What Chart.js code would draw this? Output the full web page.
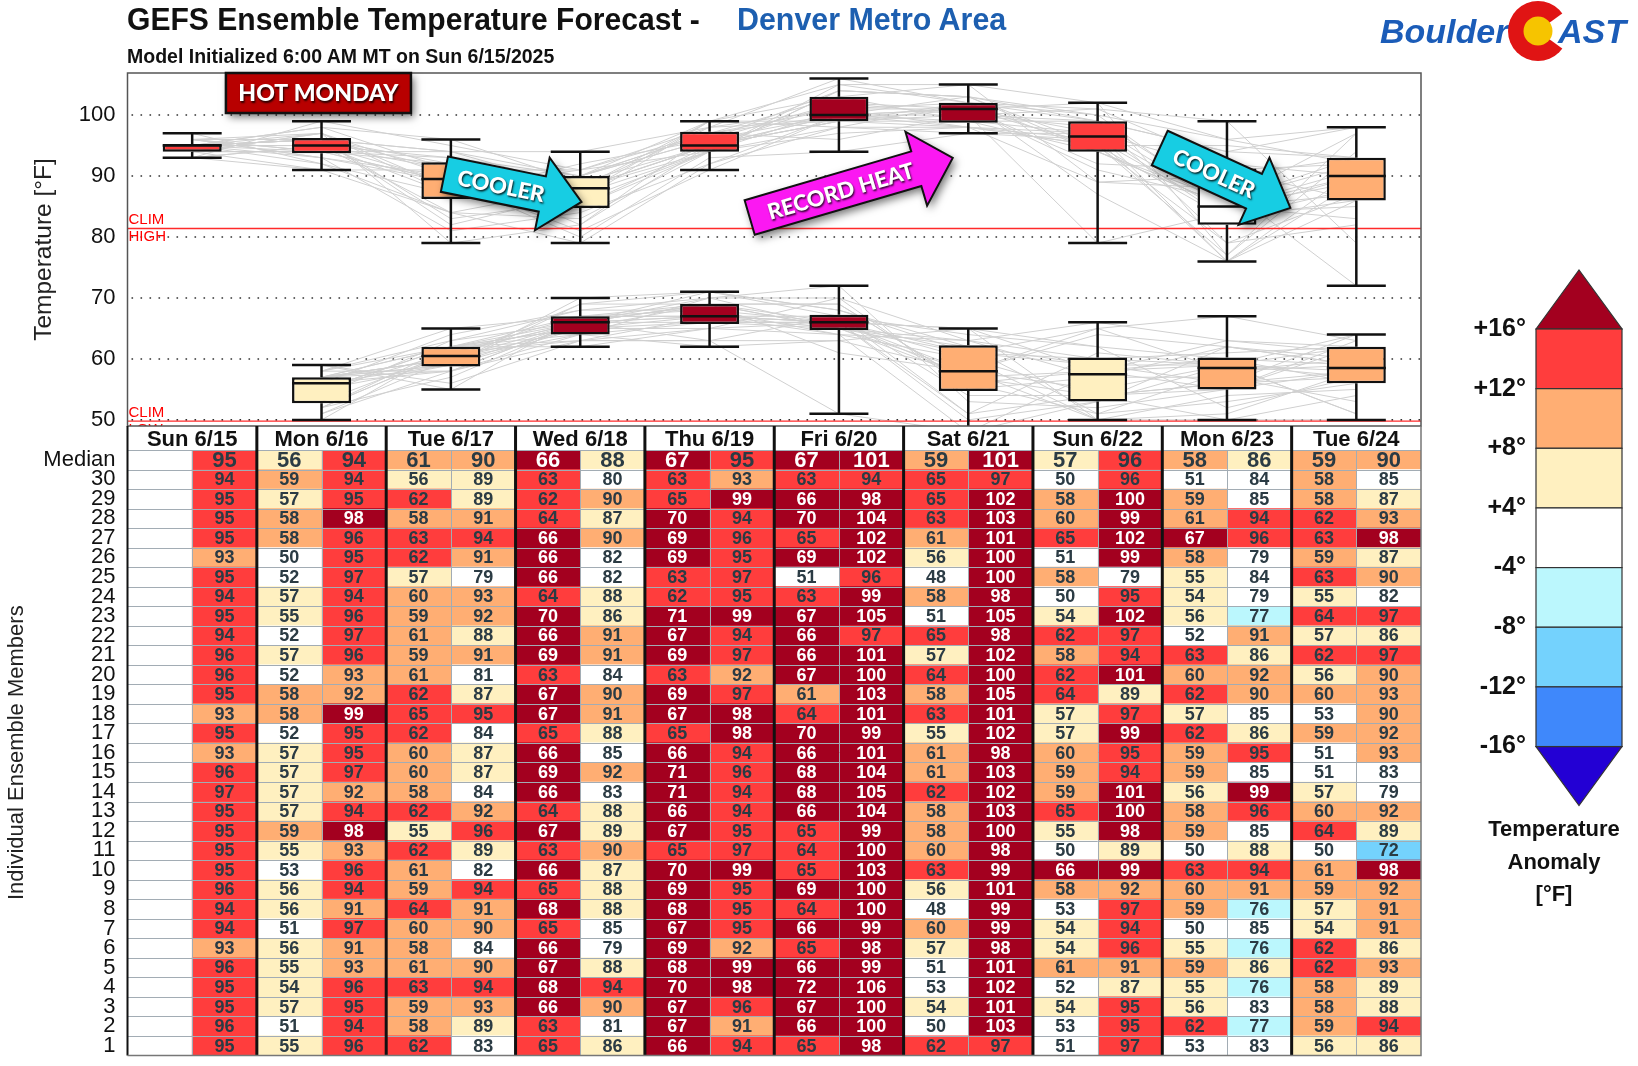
<!DOCTYPE html>
<html>
<head>
<meta charset="utf-8">
<title>GEFS Ensemble Temperature Forecast</title>
<script src="https://cdn.jsdelivr.net/npm/chart.js@4.4.0/dist/chart.umd.min.js"></script>
<style>
  html, body { margin: 0; padding: 0; background: #fff; }
  #wrap { position: relative; width: 1638px; height: 1066px; overflow: hidden; background: #fff; }
  .txt { position: absolute; white-space: nowrap; font-family: 'Liberation Sans', Arial, sans-serif; font-weight: bold; transform-origin: left top; }
  #title { left: 127px; top: 3px; font-size: 32px; line-height: 32px; color: #111; transform: scaleX(0.94); }
  #place { left: 737px; top: 3px; font-size: 32px; line-height: 32px; color: #1d5fb0; transform: scaleX(0.95); }
  #sub { left: 127px; top: 46px; font-size: 19.5px; line-height: 20px; color: #111; }
  canvas { position: absolute; }
  #topChart { left: 0; top: 0; }
  #tableChart { left: 0; top: 426px; }
  #cbar { left: 1440px; top: 250px; }
  #logo { position: absolute; left: 1368px; top: 0; }
</style>
</head>
<body>
<div id="wrap">
  <canvas id="topChart" width="1638" height="440"></canvas>
  <canvas id="tableChart" width="1638" height="640"></canvas>
  <canvas id="cbar" width="198" height="680"></canvas>
  <div class="txt" id="title">GEFS Ensemble Temperature Forecast -</div>
  <div class="txt" id="place">Denver Metro Area</div>
  <div class="txt" id="sub">Model Initialized 6:00 AM MT on Sun 6/15/2025</div>
  <svg id="logo" width="270" height="66">
    <text x="12" y="43" font-family="Liberation Sans, Arial, sans-serif" font-weight="bold" font-style="italic" font-size="34" fill="#1b5cb8">Boulder</text>
    <circle cx="170" cy="31" r="30" fill="#e01414"/>
    <polygon points="170,31 206,5 206,57" fill="#fff"/>
    <circle cx="170" cy="31" r="14.5" fill="#f6c400"/>
    <text x="190" y="43" font-family="Liberation Sans, Arial, sans-serif" font-weight="bold" font-style="italic" font-size="34" fill="#1b5cb8">AST</text>
  </svg>
</div>

<script>
// ---- data ----
const dayLabels = ['Sun 6/15', 'Mon 6/16', 'Tue 6/17', 'Wed 6/18', 'Thu 6/19',
                   'Fri 6/20', 'Sat 6/21', 'Sun 6/22', 'Mon 6/23', 'Tue 6/24'];
const memberLabels = ['30','29','28','27','26','25','24','23','22','21','20','19','18','17','16',
                      '15','14','13','12','11','10','9','8','7','6','5','4','3','2','1'];
const yTicks = [50, 60, 70, 80, 90, 100];
const climHigh = 81.4;
const climLow = 49.8;

// member values, listed member 30 down to member 1
const high_0615 = [94,95,95,95,93,95,94,95,94,96,96,95,93,95,93,96,97,95,95,95,95,96,94,94,93,96,95,95,96,95];
const low_0616  = [59,57,58,58,50,52,57,55,52,57,52,58,58,52,57,57,57,57,59,55,53,56,56,51,56,55,54,57,51,55];
const high_0616 = [94,95,98,96,95,97,94,96,97,96,93,92,99,95,95,97,92,94,98,93,96,94,91,97,91,93,96,95,94,96];
const low_0617  = [56,62,58,63,62,57,60,59,61,59,61,62,65,62,60,60,58,62,55,62,61,59,64,60,58,61,63,59,58,62];
const high_0617 = [89,89,91,94,91,79,93,92,88,91,81,87,95,84,87,87,84,92,96,89,82,94,91,90,84,90,94,93,89,83];
const low_0618  = [63,62,64,66,66,66,64,70,66,69,63,67,67,65,66,69,66,64,67,63,66,65,68,65,66,67,68,66,63,65];
const high_0618 = [80,90,87,90,82,82,88,86,91,91,84,90,91,88,85,92,83,88,89,90,87,88,88,85,79,88,94,90,81,86];
const low_0619  = [63,65,70,69,69,63,62,71,67,69,63,69,67,65,66,71,71,66,67,65,70,69,68,67,69,68,70,67,67,66];
const high_0619 = [93,99,94,96,95,97,95,99,94,97,92,97,98,98,94,96,94,94,95,97,99,95,95,95,92,99,98,96,91,94];
const low_0620  = [63,66,70,65,69,51,63,67,66,66,67,61,64,70,66,68,68,66,65,64,65,69,64,66,65,66,72,67,66,65];
const high_0620 = [94,98,104,102,102,96,99,105,97,101,100,103,101,99,101,104,105,104,99,100,103,100,100,99,98,99,106,100,100,98];
const low_0621  = [65,65,63,61,56,48,58,51,65,57,64,58,63,55,61,61,62,58,58,60,63,56,48,60,57,51,53,54,50,62];
const high_0621 = [97,102,103,101,100,100,98,105,98,102,100,105,101,102,98,103,102,103,100,98,99,101,99,99,98,101,102,101,103,97];
const low_0622  = [50,58,60,65,51,58,50,54,62,58,62,64,57,57,60,59,59,65,55,50,66,58,53,54,54,61,52,54,53,51];
const high_0622 = [96,100,99,102,99,79,95,102,97,94,101,89,97,99,95,94,101,100,98,89,99,92,97,94,96,91,87,95,95,97];
const low_0623  = [51,59,61,67,58,55,54,56,52,63,60,62,57,62,59,59,56,58,59,50,63,60,59,50,55,59,55,56,62,53];
const high_0623 = [84,85,94,96,79,84,79,77,91,86,92,90,85,86,95,85,99,96,85,88,94,91,76,85,76,86,76,83,77,83];
const low_0624  = [58,58,62,63,59,63,55,64,57,62,56,60,53,59,51,51,57,60,64,50,61,59,57,54,62,62,58,58,59,56];
const high_0624 = [85,87,93,98,87,90,82,97,86,97,90,93,90,92,93,83,79,92,89,72,98,92,91,91,86,93,89,88,94,86];

const medianHigh = [95, 94, 90, 88, 95, 101, 101, 96, 86, 90];
const medianLow  = [null, 56, 61, 66, 67, 67, 59, 57, 58, 59];

const highs = [high_0615, high_0616, high_0617, high_0618, high_0619, high_0620, high_0621, high_0622, high_0623, high_0624];
const lows  = [null, low_0616, low_0617, low_0618, low_0619, low_0620, low_0621, low_0622, low_0623, low_0624];

// anomaly colour classes (colour bar on the right)
const anomalySteps = [16, 12, 8, 4, -4, -8, -12, -16];
const anomalyColors = ['#a3001f', '#ff3d3d', '#ffae73', '#fff0c0', '#ffffff', '#bbf7fd', '#74d2fd', '#3f88fb', '#2300d4'];
const anomalyLabels = ['+16°', '+12°', '+8°', '+4°', '-4°', '-8°', '-12°', '-16°'];

function anomColor(a) {
  for (let i = 0; i < anomalySteps.length; i++) {
    if (a >= anomalySteps[i]) return anomalyColors[i];
  }
  return anomalyColors[anomalyColors.length - 1];
}

// (n+1)p quartiles, which is what the boxes in the original follow
function quantile(sorted, p) {
  const n = sorted.length;
  const h = Math.min(Math.max((n + 1) * p, 1), n) - 1;
  const lo = Math.floor(h), hi = Math.ceil(h);
  return sorted[lo] + (sorted[hi] - sorted[lo]) * (h - lo);
}

function boxStats(vals) {
  const s = [...vals].sort((a, b) => a - b);
  return { min: s[0], q1: quantile(s, 0.25), med: quantile(s, 0.5), q3: quantile(s, 0.75), max: s[s.length - 1] };
}

const SANS = "'Liberation Sans', Arial, sans-serif";
const CALLOUT = "Lato, 'Open Sans', 'Liberation Sans', sans-serif";
Chart.defaults.font.family = SANS;
Chart.defaults.color = '#111';

// keep the label overhang from eating into the plot height
function fixAxis(width) {
  return s => { s.width = width; s.paddingTop = 0; s.paddingBottom = 0; };
}

// ---- top chart: box plots with ensemble spaghetti ----
const highStats = highs.map(boxStats);
const lowStats = lows.map(c => c ? boxStats(c) : null);

const spaghetti = [];
memberLabels.forEach((m, k) => {
  spaghetti.push({ type: 'line', data: highs.map(c => c[k]), borderColor: '#d0d0d0', borderWidth: 1, pointRadius: 0, order: 3 });
  spaghetti.push({ type: 'line', data: lows.map(c => c ? c[k] : null), borderColor: '#d0d0d0', borderWidth: 1, pointRadius: 0, order: 3 });
});

const boxStyle = { type: 'bar', borderColor: '#111', borderWidth: 2.5, borderSkipped: false,
                   grouped: false, barPercentage: 0.456, categoryPercentage: 1, order: 1 };

const boxHigh = Object.assign({}, boxStyle, {
  data: highStats.map(s => [s.q1, s.q3]),
  stats: highStats,
  backgroundColor: highStats.map(s => anomColor(s.med - climHigh))
});
const boxLow = Object.assign({}, boxStyle, {
  data: lowStats.map(s => s ? [s.q1, s.q3] : null),
  stats: lowStats,
  backgroundColor: lowStats.map(s => s ? anomColor(s.med - climLow) : '#fff')
});

// call-outs placed in axis units (category index, °F)
const callouts = [
  { text: 'COOLER', color: '#17cde3', from: [1.95, 90.3], to: [3.01, 85.75], shaft: 36, head: 74, headLen: 40 },
  { text: 'RECORD HEAT', color: '#fb18f2', from: [4.31, 83.2], to: [5.88, 92.96], shaft: 36, head: 77, headLen: 38 },
  { text: 'COOLER', color: '#17cde3', from: [7.48, 94.6], to: [8.49, 84.76], shaft: 38, head: 74, headLen: 40 }
];
const hotBox = { text: 'HOT MONDAY', at: [0.976, 103.62], w: 185, h: 40 };

const topGrid = {
  id: 'topGrid',
  beforeDatasetsDraw(chart) {
    const { ctx, chartArea: a, scales: { y } } = chart;
    ctx.save();
    ctx.strokeStyle = '#333';
    ctx.lineWidth = 1.6;
    ctx.setLineDash([1.6, 7.4]);
    yTicks.forEach(v => {
      const py = y.getPixelForValue(v);
      ctx.beginPath(); ctx.moveTo(a.left + 4, py); ctx.lineTo(a.right, py); ctx.stroke();
    });
    ctx.restore();
  },
  afterDatasetDraw(chart, args) {
    if (args.index !== 0) return;
    // climatology lines go on top of the spaghetti
    const { ctx, chartArea: a, scales: { y } } = chart;
    ctx.save();
    ctx.beginPath(); ctx.rect(a.left, a.top, a.right - a.left, a.bottom - a.top); ctx.clip();
    ctx.strokeStyle = '#ff2a2a';
    ctx.lineWidth = 1.4;
    ctx.fillStyle = '#ff0000';
    ctx.font = '15px ' + SANS;
    [[climHigh, 'HIGH'], [climLow, 'LOW']].forEach(([v, word]) => {
      const py = y.getPixelForValue(v);
      ctx.beginPath(); ctx.moveTo(a.left, py); ctx.lineTo(a.right, py); ctx.stroke();
      ctx.textBaseline = 'bottom'; ctx.fillText('CLIM', a.left + 1, py - 1);
      ctx.textBaseline = 'top'; ctx.fillText(word, a.left + 1, py + 1);
    });
    ctx.restore();
  },
  afterDatasetsDraw(chart) {
    const { ctx, chartArea: a, scales: { y } } = chart;
    ctx.save();
    ctx.beginPath(); ctx.rect(a.left, a.top, a.right - a.left, a.bottom - a.top); ctx.clip();
    ctx.strokeStyle = '#111';
    ctx.lineWidth = 2.5;
    chart.data.datasets.forEach((ds, di) => {
      if (!ds.stats) return;
      const meta = chart.getDatasetMeta(di);
      ds.stats.forEach((s, i) => {
        if (!s) return;
        const el = meta.data[i];
        const x = el.x, h = el.width / 2;
        const py = v => y.getPixelForValue(v);
        ctx.beginPath();
        ctx.moveTo(x, py(s.max)); ctx.lineTo(x, py(s.q3));
        ctx.moveTo(x, py(s.q1)); ctx.lineTo(x, py(s.min));
        ctx.moveTo(x - h, py(s.max)); ctx.lineTo(x + h, py(s.max));
        ctx.moveTo(x - h, py(s.min)); ctx.lineTo(x + h, py(s.min));
        ctx.moveTo(x - h, py(s.med)); ctx.lineTo(x + h, py(s.med));
        ctx.stroke();
      });
    });
    ctx.restore();
  },
  afterDraw(chart) {
    const { ctx, chartArea: a, scales: { x, y } } = chart;
    // plot frame
    ctx.save();
    ctx.strokeStyle = '#555';
    ctx.lineWidth = 1.5;
    ctx.strokeRect(a.left, a.top, a.right - a.left, a.bottom - a.top);

    // HOT MONDAY label
    const cx = x.getPixelForValue(hotBox.at[0]), cy = y.getPixelForValue(hotBox.at[1]);
    ctx.save();
    ctx.shadowColor = 'rgba(0,0,0,0.55)'; ctx.shadowBlur = 8; ctx.shadowOffsetX = 3; ctx.shadowOffsetY = 4;
    ctx.fillStyle = '#b80000';
    ctx.fillRect(cx - hotBox.w / 2, cy - hotBox.h / 2, hotBox.w, hotBox.h);
    ctx.restore();
    ctx.lineWidth = 2.5; ctx.strokeStyle = '#111';
    ctx.strokeRect(cx - hotBox.w / 2, cy - hotBox.h / 2, hotBox.w, hotBox.h);
    ctx.font = '900 23px ' + CALLOUT;
    ctx.textAlign = 'center'; ctx.textBaseline = 'middle';
    ctx.shadowColor = 'rgba(0,0,0,0.8)'; ctx.shadowBlur = 2; ctx.shadowOffsetX = 1; ctx.shadowOffsetY = 1.5;
    ctx.fillStyle = '#fff';
    ctx.fillText(hotBox.text, cx, cy + 1);
    ctx.restore();

    callouts.forEach(c => {
      const x0 = x.getPixelForValue(c.from[0]), y0 = y.getPixelForValue(c.from[1]);
      const x1 = x.getPixelForValue(c.to[0]), y1 = y.getPixelForValue(c.to[1]);
      const ang = Math.atan2(y1 - y0, x1 - x0), len = Math.hypot(x1 - x0, y1 - y0);
      const sb = len - c.headLen;
      ctx.save();
      ctx.translate(x0, y0); ctx.rotate(ang);
      ctx.beginPath();
      ctx.moveTo(0, -c.shaft / 2); ctx.lineTo(sb, -c.shaft / 2); ctx.lineTo(sb, -c.head / 2);
      ctx.lineTo(len, 0);
      ctx.lineTo(sb, c.head / 2); ctx.lineTo(sb, c.shaft / 2); ctx.lineTo(0, c.shaft / 2);
      ctx.closePath();
      ctx.save();
      ctx.shadowColor = 'rgba(0,0,0,0.55)'; ctx.shadowBlur = 8; ctx.shadowOffsetX = 3; ctx.shadowOffsetY = 4;
      ctx.fillStyle = c.color; ctx.fill();
      ctx.restore();
      ctx.lineWidth = 2; ctx.strokeStyle = '#111'; ctx.stroke();
      ctx.font = '900 22px ' + CALLOUT;
      ctx.textAlign = 'center'; ctx.textBaseline = 'middle';
      ctx.shadowColor = 'rgba(0,0,0,0.85)'; ctx.shadowBlur = 2; ctx.shadowOffsetX = 1; ctx.shadowOffsetY = 1.5;
      ctx.fillStyle = '#fff';
      ctx.fillText(c.text, sb / 2 + 8, 1);
      ctx.restore();
    });
  }
};

new Chart(document.getElementById('topChart'), {
  type: 'bar',
  data: { labels: dayLabels, datasets: [...spaghetti, boxHigh, boxLow] },
  options: {
    responsive: false,
    animation: false,
    layout: { padding: { left: 30, right: 217, top: 73, bottom: 14 } },
    plugins: { legend: { display: false }, tooltip: { enabled: false } },
    scales: {
      x: { type: 'category', offset: true, display: false },
      y: {
        min: 49.0, max: 106.9,
        afterBuildTicks: s => { s.ticks = yTicks.map(v => ({ value: v })); },
        afterFit: fixAxis(97.5),
        grid: { display: false, drawTicks: false },
        border: { display: false },
        ticks: { font: { size: 22 }, color: '#111', padding: 12 },
        title: { display: true, text: 'Temperature [°F]', font: { size: 24.5 }, color: '#222', padding: { top: 0, bottom: 0 } }
      }
    }
  },
  plugins: [topGrid]
});

// ---- bottom: member table ----
const rowLabels = ['Median', ...memberLabels];
const tableSets = [];
dayLabels.forEach((d, i) => {
  [[lows[i], medianLow[i], climLow, 2 * i], [highs[i], medianHigh[i], climHigh, 2 * i + 1]].forEach(([vals, med, clim, col]) => {
    if (!vals) return;
    const cells = [med, ...vals];
    tableSets.push({
      data: cells.map(() => [col, col + 1]),
      cellValues: cells,
      col: col,
      backgroundColor: cells.map(v => anomColor(v - clim)),
      borderWidth: 0
    });
  });
});

const tableGrid = {
  id: 'tableGrid',
  afterDatasetsDraw(chart) {
    const { ctx, chartArea: a, scales: { x, y } } = chart;
    const n = rowLabels.length;
    const rowEdge = r => r === 0 ? a.top : (r === n ? a.bottom : (y.getPixelForValue(r - 1) + y.getPixelForValue(r)) / 2);
    ctx.save();
    // thin cell lines
    ctx.strokeStyle = '#a2acb4';
    ctx.lineWidth = 1;
    for (let r = 0; r < n; r++) {
      const py = Math.round(rowEdge(r)) + 0.5;
      ctx.beginPath(); ctx.moveTo(a.left, py); ctx.lineTo(a.right, py); ctx.stroke();
    }
    for (let c = 1; c < 20; c += 2) {
      const px = Math.round(x.getPixelForValue(c)) + 0.5;
      ctx.beginPath(); ctx.moveTo(px, a.top); ctx.lineTo(px, a.bottom); ctx.stroke();
    }
    // values
    ctx.textAlign = 'center';
    ctx.textBaseline = 'middle';
    chart.data.datasets.forEach(ds => {
      const px = x.getPixelForValue(ds.col + 0.5);
      ds.cellValues.forEach((v, r) => {
        if (v == null) return;
        const py = y.getPixelForValue(r);
        ctx.font = r === 0 ? 'bold 22px ' + SANS : 'bold 18px ' + SANS;
        ctx.fillStyle = ds.backgroundColor[r] === anomalyColors[0] ? '#ffffff' : '#2b3b44';
        ctx.fillText(String(v), px, py + 1);
      });
    });
    // day separators and frame
    ctx.strokeStyle = '#111';
    for (let g = 1; g < dayLabels.length; g++) {
      const px = x.getPixelForValue(2 * g);
      ctx.lineWidth = 3;
      ctx.beginPath(); ctx.moveTo(px, 0); ctx.lineTo(px, a.bottom); ctx.stroke();
    }
    ctx.lineWidth = 2;
    ctx.beginPath(); ctx.moveTo(a.left, 0); ctx.lineTo(a.left, a.bottom); ctx.stroke();
    ctx.strokeStyle = '#777';
    ctx.lineWidth = 1.5;
    ctx.beginPath(); ctx.moveTo(a.right, 0); ctx.lineTo(a.right, a.bottom); ctx.lineTo(a.left, a.bottom); ctx.stroke();
    // day headers
    ctx.fillStyle = '#111';
    ctx.font = 'bold 22px ' + SANS;
    dayLabels.forEach((d, i) => {
      ctx.fillText(d, x.getPixelForValue(2 * i + 1), a.top / 2 + 2);
    });
    ctx.restore();
  }
};

new Chart(document.getElementById('tableChart'), {
  type: 'bar',
  data: { labels: rowLabels, datasets: tableSets },
  options: {
    indexAxis: 'y',
    responsive: false,
    animation: false,
    layout: { padding: { left: 0, right: 217, top: 24, bottom: 10.6 } },
    plugins: { legend: { display: false }, tooltip: { enabled: false } },
    datasets: { bar: { grouped: false, barPercentage: 1, categoryPercentage: 1 } },
    scales: {
      x: { type: 'linear', min: 0, max: 20, display: false },
      y: {
        type: 'category', offset: true,
        afterFit: fixAxis(127.5),
        grid: { display: false, drawTicks: false },
        border: { display: false },
        ticks: { autoSkip: false, font: { size: 22 }, color: '#111', padding: 12 },
        title: { display: true, text: 'Individual Ensemble Members', font: { size: 22 }, color: '#222', padding: { top: 4, bottom: 0 } }
      }
    }
  },
  plugins: [tableGrid]
});

// ---- colour bar legend ----
(function drawColorBar() {
  const g = document.getElementById('cbar').getContext('2d');
  const left = 96, right = 182, mid = 139;
  const top = 79, step = 59.65, apex = 20;
  const edges = anomalySteps.map((s, i) => top + i * step);
  const bottom = edges[edges.length - 1];
  g.lineWidth = 1.2;
  g.strokeStyle = '#333';
  // top triangle
  g.beginPath(); g.moveTo(left, top); g.lineTo(mid, apex); g.lineTo(right, top); g.closePath();
  g.fillStyle = anomalyColors[0]; g.fill(); g.stroke();
  for (let i = 0; i < edges.length - 1; i++) {
    g.fillStyle = anomalyColors[i + 1];
    g.fillRect(left, edges[i], right - left, edges[i + 1] - edges[i]);
    g.strokeRect(left, edges[i], right - left, edges[i + 1] - edges[i]);
  }
  g.beginPath(); g.moveTo(left, bottom); g.lineTo(mid, bottom + (top - apex)); g.lineTo(right, bottom); g.closePath();
  g.fillStyle = anomalyColors[anomalyColors.length - 1]; g.fill(); g.stroke();
  g.fillStyle = '#111';
  g.textAlign = 'right'; g.textBaseline = 'middle';
  g.font = 'bold 25px ' + SANS;
  anomalyLabels.forEach((t, i) => g.fillText(t, 86, edges[i]));
  g.textAlign = 'center';
  g.font = 'bold 22px ' + SANS;
  ['Temperature', 'Anomaly', '[°F]'].forEach((t, i) => g.fillText(t, 114, 580 + i * 32.5));
})();
</script>
</body>
</html>
